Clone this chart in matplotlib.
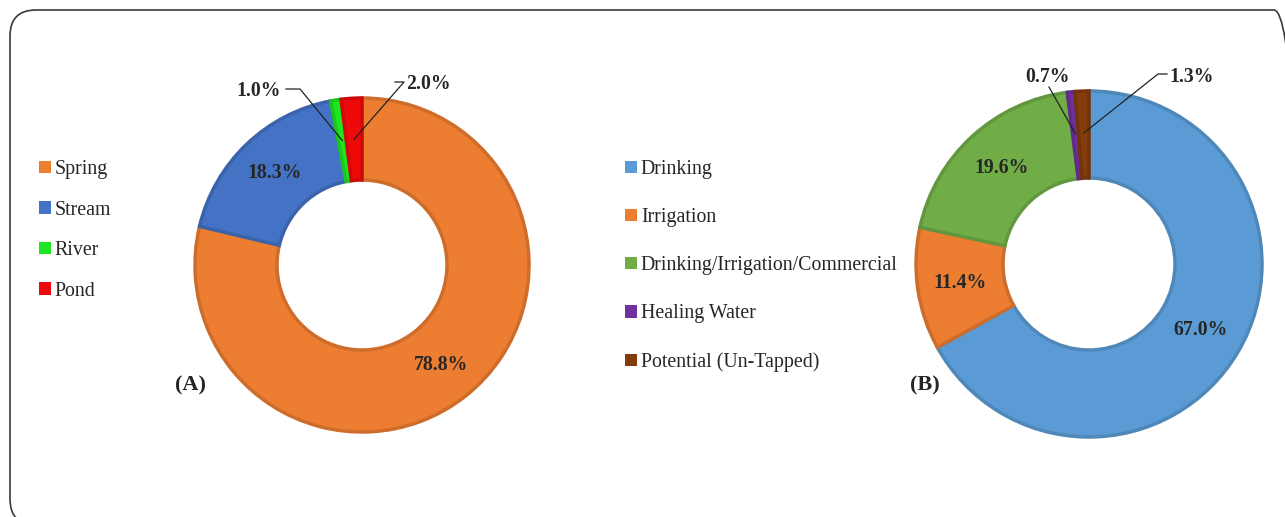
import numpy as np
import matplotlib.pyplot as plt
from matplotlib.patches import FancyBboxPatch
from matplotlib.colors import to_rgb

plt.rcParams["font.family"] = ["Liberation Serif", "DejaVu Serif"]

W, H = 1285, 517

# panel A: water source
source_labels = ["Spring", "Stream", "River", "Pond"]
source_values = [78.8, 18.3, 1.0, 2.0]
source_colors = ["#ED7D31", "#4472C4", "#1EE61E", "#EE0A0A"]

# panel B: water use
use_labels = ["Drinking", "Irrigation", "Drinking/Irrigation/Commercial",
              "Healing Water", "Potential (Un-Tapped)"]
use_values = [67.0, 11.4, 19.6, 0.7, 1.3]
use_colors = ["#5B9BD5", "#ED7D31", "#70AD47", "#7030A0", "#843C0C"]


def darker(c, f=0.87):
    r, g, b = to_rgb(c)
    return (r * f, g * f, b * f)


def img_y(y):
    # pixel row from the top -> data y
    return H - y


def donut(ax, values, colors, cx, cy, R, r):
    wedges, _ = ax.pie(values, colors=colors, startangle=90, counterclock=False,
                       center=(cx, img_y(cy)), radius=R,
                       wedgeprops=dict(width=R - r, linewidth=2.5),
                       normalize=True)
    for w, c in zip(wedges, colors):
        w.set_edgecolor(darker(c))
    return wedges


def mid_point(w, rad):
    ang = np.deg2rad((w.theta1 + w.theta2) / 2)
    cx, cy = w.center
    return cx + rad * np.cos(ang), cy + rad * np.sin(ang)


fig = plt.figure(figsize=(W / 100, H / 100), dpi=100)
ax = fig.add_axes([0, 0, 1, 1])

frame = FancyBboxPatch((10, img_y(525)), 1290, 515,
                       boxstyle="round,pad=0,rounding_size=26",
                       facecolor="none", edgecolor="#3a3a3a", linewidth=1.2)
ax.add_patch(frame)

lab_kw = dict(fontsize=14.2, fontweight="bold", color="#262626")

# ---- panel A
wa = donut(ax, source_values, source_colors, 362, 265, 167, 85)
for i in (0, 1):
    x, y = mid_point(wa[i], 127)
    ax.text(x, y, f"{source_values[i]:.1f}%", ha="center", va="center", **lab_kw)
# leader lines for the thin slices
x, y = mid_point(wa[2], 126)
ax.plot([286, 300, x], [img_y(89), img_y(89), y], color="#222222", lw=0.9)
ax.text(281, img_y(91), f"{source_values[2]:.1f}%", ha="right", va="center", **lab_kw)
x, y = mid_point(wa[3], 126)
ax.plot([395, 404, x], [img_y(82), img_y(82), y], color="#222222", lw=0.9)
ax.text(406, img_y(84), f"{source_values[3]:.1f}%", ha="left", va="center", **lab_kw)
ax.text(190, img_y(385), "(A)", ha="center", va="center", fontsize=16,
        fontweight="bold", color="#262626")

# ---- panel B
wb = donut(ax, use_values, use_colors, 1089, 264, 173, 86)
for i in (0, 1, 2):
    x, y = mid_point(wb[i], 130)
    ax.text(x, y, f"{use_values[i]:.1f}%", ha="center", va="center", **lab_kw)
x, y = mid_point(wb[3], 131)
ax.plot([1049, x], [img_y(87), y], color="#222222", lw=0.9)
ax.text(1047, img_y(77), f"{use_values[3]:.1f}%", ha="center", va="center", **lab_kw)
x, y = mid_point(wb[4], 131)
ax.plot([1167, 1158, x], [img_y(74), img_y(74), y], color="#222222", lw=0.9)
ax.text(1169, img_y(77), f"{use_values[4]:.1f}%", ha="left", va="center", **lab_kw)
ax.text(925, img_y(385), "(B)", ha="center", va="center", fontsize=16,
        fontweight="bold", color="#262626")

leg_kw = dict(frameon=False, fontsize=14.3, handlelength=0.6, handleheight=0.6,
              handletextpad=0.2, loc="upper left", borderpad=0, borderaxespad=0,
              labelcolor="#262626")
leg_a = ax.legend(wa, source_labels, bbox_to_anchor=(39 / W, 1 - 160 / H),
                  labelspacing=1.085, **leg_kw)
for h in leg_a.legend_handles:
    h.set_linewidth(0)
ax.add_artist(leg_a)
leg_b = ax.legend(wb, use_labels, bbox_to_anchor=(625 / W, 1 - 160 / H),
                  labelspacing=1.465, **leg_kw)
for h in leg_b.legend_handles:
    h.set_linewidth(0)

ax.set_xlim(0, W)
ax.set_ylim(0, H)
ax.set_aspect("auto")
ax.axis("off")

fig.savefig("out.png", dpi=100)
